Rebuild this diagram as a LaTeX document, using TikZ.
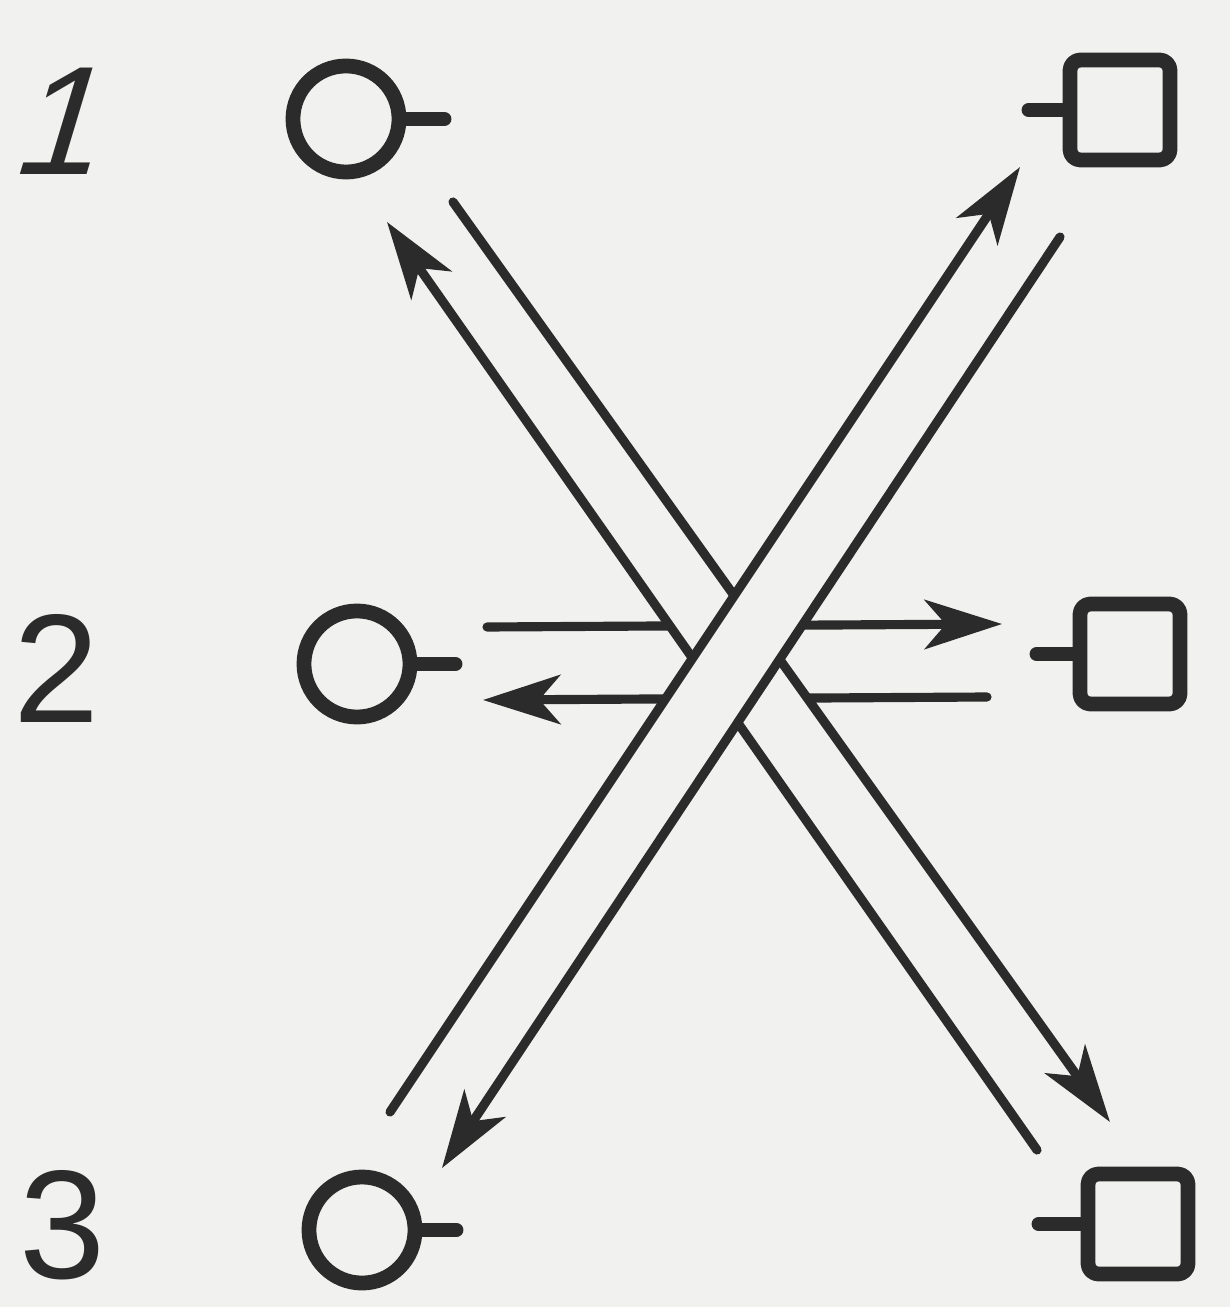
\documentclass[tikz,border=0pt]{standalone}
\usepackage{fontspec}
\setmainfont{Liberation Sans}
\usepackage{xcolor}
\usepackage{tikz}
\usetikzlibrary{arrows.meta,calc}
\definecolor{swInk}{HTML}{2B2B2B}
\definecolor{swPaper}{HTML}{F1F1EF}
\tikzset{
  sw diagram/.style={x=0.01cm, y=-0.01cm, line cap=round, line join=round},
  sw port/.style={circle, draw=swInk, line width=4.2pt,
    minimum size=1.06cm, inner sep=0pt},
  sw term/.style={rectangle, draw=swInk, line width=4.2pt, rounded corners=3pt,
    minimum size=1.0cm, inner sep=0pt},
  sw stub/.style={draw=swInk, line width=4pt},
  sw line/.style={draw=swInk, line width=2.6pt},
  sw arrow/.style={sw line, -{Stealth[length=22pt, width=14pt, inset=6pt]}},
  sw mask/.style={fill=swPaper},
  sw digit/.style={text=swInk, font=\fontsize{44}{44}\selectfont, inner sep=0pt}
}

\begin{document}
\begin{tikzpicture}[sw diagram]
\fill[swPaper] (0,0) rectangle (1230,1307);
\useasboundingbox (0,0) rectangle (1230,1307);
% row labels
\node[sw digit, xslant=0.3, transform shape] (n1) at (67,121) {1};
\node[sw digit] (n2) at (57,668) {2};
\node[sw digit] (n3) at (63,1225) {3};
% left ports and right terminals
\node[sw port] (l1) at (346,119) {};
\node[sw port] (l2) at (357,664) {};
\node[sw port] (l3) at (362,1230) {};
\node[sw term] (r1) at (1120,110) {};
\node[sw term] (r2) at (1130,654) {};
\node[sw term] (r3) at (1138,1224) {};
\draw[sw stub] (l1.east) -- ++(38,0);
\draw[sw stub] (l2.east) -- ++(38,0);
\draw[sw stub] (l3.east) -- ++(34,0);
\draw[sw stub] (r1.west) -- ++(-34,0);
\draw[sw stub] (r2.west) -- ++(-36,0);
\draw[sw stub] (r3.west) -- ++(-42,0);
% line ends
\coordinate (t22) at (487,627);  \coordinate (h22) at (1002,624);
\coordinate (u22) at (987,697);  \coordinate (g22) at (483,700);
\coordinate (t13) at (453,202);  \coordinate (h13) at (1110,1122);
\coordinate (u31) at (1037,1150); \coordinate (g31) at (387,222);
\coordinate (t31) at (390,1112); \coordinate (h31) at (1020,167);
\coordinate (u13) at (1060,237); \coordinate (g13) at (442,1168);
% straight across, lowest layer
\draw[sw arrow] (t22) -- (h22);
\draw[sw arrow] (u22) -- (g22);
% falling band
\fill[sw mask] ($(t13)!0.389!(h13)$) -- ($(t13)!0.617!(h13)$)
  -- ($(u31)!0.409!(g31)$) -- ($(u31)!0.636!(g31)$) -- cycle;
\draw[sw arrow] (t13) -- (h13);
\draw[sw arrow] (u31) -- (g31);
% rising band, on top
\fill[sw mask] ($(t31)!0.330!(h31)$) -- ($(t31)!0.626!(h31)$)
  -- ($(u13)!0.304!(g13)$) -- ($(u13)!0.605!(g13)$) -- cycle;
\draw[sw arrow] (t31) -- (h31);
\draw[sw arrow] (u13) -- (g13);
\end{tikzpicture}
\end{document}
